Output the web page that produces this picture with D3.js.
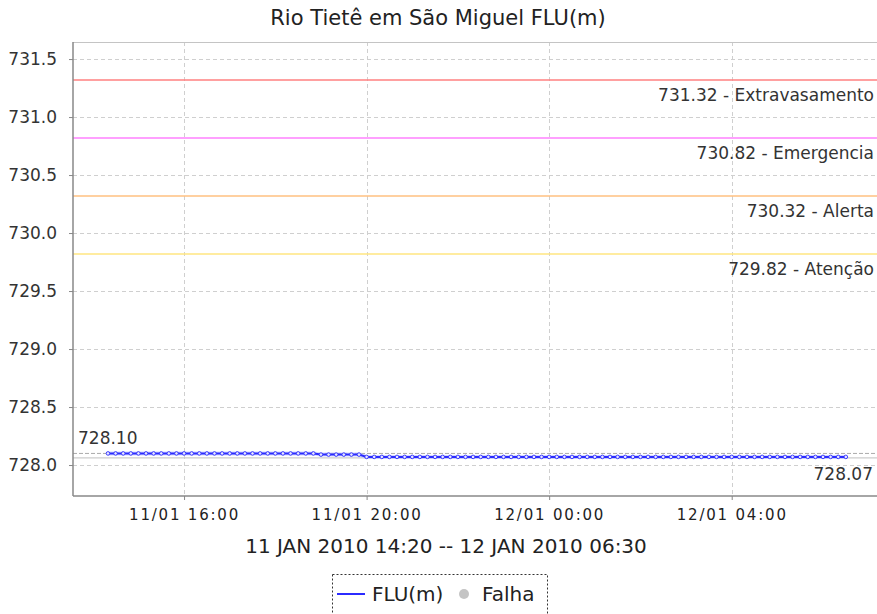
<!DOCTYPE html>
<html><head><meta charset="utf-8">
<script src="https://cdn.jsdelivr.net/npm/d3@7"></script>
<style>
html,body{margin:0;padding:0;background:#fff;}
svg{display:block;font-family:"DejaVu Sans",sans-serif;}
</style></head>
<body>
<svg id="chart" width="877" height="614"></svg>
<script>
// ---- data ----
const title = "Rio Tietê em São Miguel FLU(m)";
const subtitle = "11 JAN 2010 14:20 -- 12 JAN 2010 06:30";
const seriesName = "FLU(m)";
const failName = "Falha";
const startTime = new Date(2010, 0, 11, 14, 20);
const stepMinutes = 10;
const levels = [
  728.10,728.10,728.10,728.10,728.10,728.10,728.10,728.10,728.10,728.10,
  728.10,728.10,728.10,728.10,728.10,728.10,728.10,728.10,728.10,728.10,
  728.10,728.10,728.10,728.10,728.10,728.10,728.10,728.10,
  728.09,728.09,728.09,728.09,728.09,728.09,
  728.07,728.07,728.07,728.07,728.07,728.07,728.07,728.07,728.07,728.07,
  728.07,728.07,728.07,728.07,728.07,728.07,728.07,728.07,728.07,728.07,
  728.07,728.07,728.07,728.07,728.07,728.07,728.07,728.07,728.07,728.07,
  728.07,728.07,728.07,728.07,728.07,728.07,728.07,728.07,728.07,728.07,
  728.07,728.07,728.07,728.07,728.07,728.07,728.07,728.07,728.07,728.07,
  728.07,728.07,728.07,728.07,728.07,728.07,728.07,728.07,728.07,728.07,
  728.07,728.07,728.07,728.07
];
const thresholdValues = [731.32, 730.82, 730.32, 729.82];
const thresholdNames = ["Extravasamento", "Emergencia", "Alerta", "Atenção"];
const thresholdColors = ["#ff8080", "#ff80ff", "#ffc080", "#ffe680"];
const yTicks = [728.0, 728.5, 729.0, 729.5, 730.0, 730.5, 731.0, 731.5];
const xTicks = [new Date(2010,0,11,16,0), new Date(2010,0,11,20,0), new Date(2010,0,12,0,0), new Date(2010,0,12,4,0)];
const xDomain = [new Date(2010,0,11,13,34), new Date(2010,0,12,7,11)];
const yDomain = [727.733, 731.647];
const maxValue = 728.10, minValue = 728.07;

// ---- layout ----
const svg = d3.select("#chart");
const L = 73, T = 42, R = 877, B = 496;
const x = d3.scaleTime().domain(xDomain).range([L, R]);
const y = d3.scaleLinear().domain(yDomain).range([B, T]);
const data = levels.map((v, i) => ({t: new Date(startTime.getTime() + i*stepMinutes*60000), v}));

// title
svg.append("text").attr("x", 438).attr("y", 25).attr("text-anchor","middle")
  .attr("font-size", 21).attr("fill","#222").text(title);

// plot background
svg.append("rect").attr("x",L).attr("y",T).attr("width",R-L).attr("height",B-T).attr("fill","#fff");

// gridlines
const grid = svg.append("g").attr("stroke","#cfcfcf").attr("stroke-dasharray","4,3").attr("stroke-width",1);
yTicks.forEach(v => grid.append("line").attr("x1",L).attr("x2",R).attr("y1",Math.round(y(v))+0.5).attr("y2",Math.round(y(v))+0.5));
xTicks.forEach(t => grid.append("line").attr("y1",T).attr("y2",B).attr("x1",Math.round(x(t))+0.5).attr("x2",Math.round(x(t))+0.5));

// threshold lines
thresholdValues.forEach((v,i) => {
  svg.append("line").attr("x1",L).attr("x2",R).attr("y1",y(v)).attr("y2",y(v))
    .attr("stroke",thresholdColors[i]).attr("stroke-width",1.5);
  svg.append("text").attr("x",874).attr("y",y(v)+21).attr("text-anchor","end")
    .attr("font-size",17).attr("fill","#333").text(d3.format(".2f")(v) + " - " + thresholdNames[i]);
});

// max/min reference lines
svg.append("line").attr("x1",L).attr("x2",R).attr("y1",y(maxValue)).attr("y2",y(maxValue))
  .attr("stroke","#aaaaaa").attr("stroke-dasharray","4,2");
svg.append("line").attr("x1",L).attr("x2",R).attr("y1",y(minValue)+1).attr("y2",y(minValue)+1)
  .attr("stroke","#cccccc").attr("stroke-width",1.2);

// series
const line = d3.line().x(d => x(d.t)).y(d => y(d.v));
svg.append("path").datum(data).attr("d",line).attr("fill","none")
  .attr("stroke","#b8c0ff").attr("stroke-width",4).attr("opacity",0.6);
svg.append("path").datum(data).attr("d",line).attr("fill","none")
  .attr("stroke","#2b2bff").attr("stroke-width",2);
svg.append("g").selectAll("circle").data(data).join("circle")
  .attr("cx",d=>x(d.t)).attr("cy",d=>y(d.v)).attr("r",1.8)
  .attr("fill","#e8e8ff").attr("stroke","#2b2bff").attr("stroke-width",0.9);

// max/min labels
svg.append("text").attr("x",78).attr("y",444).attr("font-size",17).attr("fill","#333")
  .text(d3.format(".2f")(maxValue));
svg.append("text").attr("x",873).attr("y",y(minValue)+23).attr("text-anchor","end").attr("font-size",17).attr("fill","#333")
  .text(d3.format(".2f")(minValue));

// top border
svg.append("line").attr("x1",L).attr("x2",R).attr("y1",T+0.5).attr("y2",T+0.5).attr("stroke","#c4c4c4");

// axes
const yAxis = d3.axisLeft(y).tickValues(yTicks).tickFormat(d3.format(".1f")).tickSize(4).tickPadding(12);
const gy = svg.append("g").attr("transform",`translate(${L},0)`).call(yAxis);
gy.select(".domain").attr("stroke","#888").attr("stroke-width",1.5).attr("d",`M0,${T}V${B}`);
gy.selectAll(".tick line").attr("stroke","#888");
gy.selectAll(".tick text").attr("font-family","DejaVu Sans").attr("font-size",17).attr("fill","#333");

const xAxis = d3.axisBottom(x).tickValues(xTicks).tickFormat(d3.timeFormat("%d/%m %H:%M")).tickSize(4).tickPadding(9);
const gx = svg.append("g").attr("transform",`translate(0,${B})`).call(xAxis);
gx.select(".domain").attr("stroke","#888").attr("stroke-width",1.5).attr("d",`M${L},0H${R}`);
gx.selectAll(".tick line").attr("stroke","#888");
gx.selectAll(".tick text").attr("font-family","DejaVu Sans").attr("font-size",15).attr("letter-spacing","1.8px").attr("fill","#222");

// subtitle
svg.append("text").attr("x",446).attr("y",553).attr("text-anchor","middle")
  .attr("font-size",20).attr("fill","#222").text(subtitle);

// legend
const lg = svg.append("g");
lg.append("rect").attr("x",332.5).attr("y",574.5).attr("width",215).attr("height",40)
  .attr("fill","#fff").attr("stroke","#333").attr("stroke-dasharray","2,2");
lg.append("line").attr("x1",337).attr("x2",365).attr("y1",594).attr("y2",594).attr("stroke","#2b2bff").attr("stroke-width",2);
lg.append("text").attr("x",372).attr("y",601).attr("font-size",20).attr("fill","#222").text(seriesName);
lg.append("circle").attr("cx",464).attr("cy",594).attr("r",5).attr("fill","#c4c4c4");
lg.append("text").attr("x",482).attr("y",601).attr("font-size",20).attr("fill","#222").text(failName);
</script>
</body></html>
